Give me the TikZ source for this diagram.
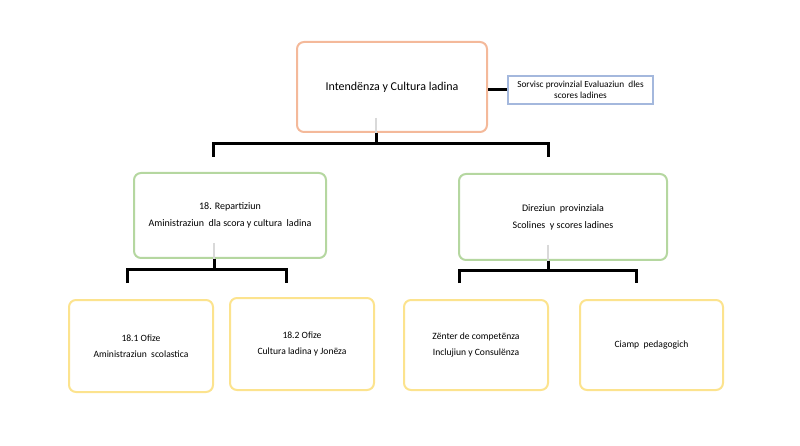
\documentclass[tikz,border=0pt]{standalone}
\usepackage{fontspec}
\setmainfont{Carlito}
\usetikzlibrary{calc}
\definecolor{orangeb}{HTML}{F4B99A}
\definecolor{blueb}{HTML}{A4B8DD}
\definecolor{greenb}{HTML}{B5D7A0}
\definecolor{yellowb}{HTML}{FCE38E}
\definecolor{stub}{HTML}{D9D9D9}
\tikzset{
  box/.style={draw, line width=2pt, rounded corners=7pt, fill=white, align=center, inner sep=2pt},
  topbox/.style={box, draw=orangeb, font=\fontsize{12}{14}\selectfont},
  svcbox/.style={draw=blueb, line width=2pt, fill=white, align=center, inner sep=1pt, font=\fontsize{9.3}{11}\selectfont},
  midbox/.style={box, draw=greenb, font=\fontsize{10}{17}\selectfont},
  lowbox/.style={box, draw=yellowb, font=\fontsize{9.6}{16}\selectfont},
  bk/.style={line width=3pt, black},
  stubline/.style={line width=2pt, stub}
}
\begin{document}
\begin{tikzpicture}[x=1pt,y=-1pt]
\useasboundingbox (0,0) rectangle (800,446);
% boxes
\node[topbox, minimum width=190pt, minimum height=90pt] (top) at (392,87) {Intendënza y Cultura ladina};
\node[svcbox, minimum width=145pt, minimum height=28pt] (svc) at (580.5,90) {Sorvisc provinzial Evaluaziun \ dles\\scores ladines};
\node[midbox, minimum width=192pt, minimum height=85pt] (lm) at (230,215.5) {18. Repartiziun\\Aministraziun \ dla scora y cultura \ ladina};
\node[midbox, minimum width=208pt, minimum height=86pt] (rm) at (563,217) {Direziun \ provinziala\\Scolines \ y scores ladines};
\node[lowbox, minimum width=144pt, minimum height=92pt] (b1) at (141,346) {18.1 Ofize\\Aministraziun \ scolastica};
\node[lowbox, minimum width=144pt, minimum height=92pt] (b2) at (302,344) {18.2 Ofize\\Cultura ladina y Jonëza};
\node[lowbox, minimum width=144pt, minimum height=90pt] (b3) at (476,345) {Zënter de competënza\\Inclujiun y Consulënza};
\node[lowbox, minimum width=143pt, minimum height=90pt] (b4) at (651.5,345) {Ciamp \ pedagogich};
% connector to service box
\draw[bk] (top.east |- svc.west) -- (svc.west);
% top branch
\coordinate (j0) at (376,144);
\coordinate (d1) at (213,157);
\coordinate (d2) at (548,157);
\draw[stubline] (376,118) -- (top.south -| j0);
\draw[bk] (top.south -| j0) -- (j0);
\draw[bk] (d1) |- (j0) -| (d2);
% left branch
\coordinate (j1) at (214,270);
\coordinate (e1) at (127,283);
\coordinate (e2) at (286,283);
\draw[stubline] (214,243) -- (lm.south -| j1);
\draw[bk] (lm.south -| j1) -- (j1);
\draw[bk] (e1) |- (j1) -| (e2);
% right branch
\coordinate (j2) at (548,271);
\coordinate (f1) at (459,283);
\coordinate (f2) at (636,283);
\draw[stubline] (548,245) -- (rm.south -| j2);
\draw[bk] (rm.south -| j2) -- (j2);
\draw[bk] (f1) |- (j2) -| (f2);
\end{tikzpicture}
\end{document}
